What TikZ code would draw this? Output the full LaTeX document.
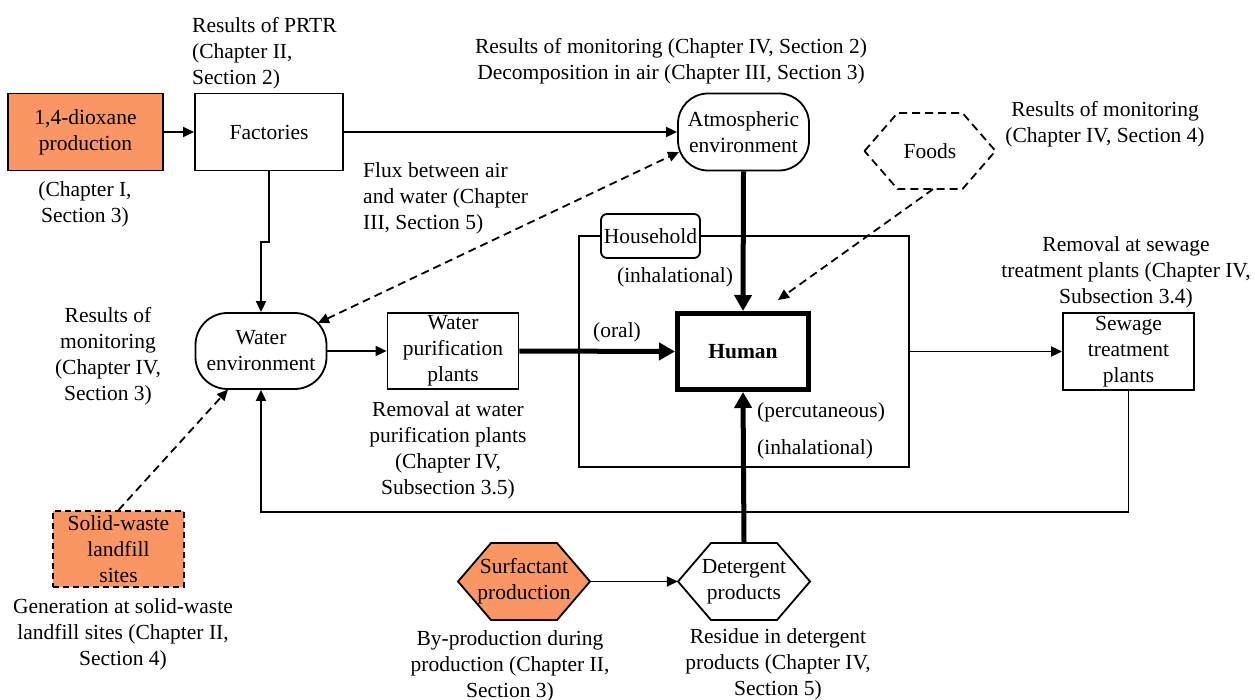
\documentclass[tikz,border=0pt]{standalone}
\usepackage{fontspec}
\setmainfont{Liberation Serif}
\usetikzlibrary{arrows.meta}
\definecolor{orfill}{RGB}{250,150,100}
\newcommand{\hexpath}[5]{%
  \draw[#5] ({#1-#3/2},#2) -- ({#1-#3/2+33},{#2-#4/2}) -- ({#1+#3/2-33},{#2-#4/2}) --
    ({#1+#3/2},#2) -- ({#1+#3/2-33},{#2+#4/2}) -- ({#1-#3/2+33},{#2+#4/2}) -- cycle;}
\begin{document}
\begin{tikzpicture}[x=1pt,y=-1pt,
  every node/.style={font=\fontsize{21.5}{26}\selectfont, inner sep=0pt, align=center},
  boxnode/.style={draw, line width=1.8pt, rectangle, minimum height=77pt},
  plain/.style={rectangle, minimum height=77pt},
  conn/.style={line width=1.8pt, -{Triangle[length=11pt,width=10pt]}},
  dconn/.style={line width=1.8pt, dash pattern=on 8pt off 5pt, -{Triangle[length=11pt,width=10pt]}},
  thick arrow/.style={line width=5pt, -{Triangle[length=16pt,width=17pt]}}]
\useasboundingbox (0,0) rectangle (1255,700);
\fill[white] (0,0) rectangle (1255,700);

% household frame
\node[draw, line width=1.8pt, minimum width=330pt, minimum height=231pt] (frame) at (744,351.5) {};
\node[draw, line width=1.8pt, fill=white, rounded corners=6pt, minimum width=99pt, minimum height=44pt] (hh) at (650.5,236) {Household};

% boxes
\node[boxnode, fill=orfill, minimum width=155pt] (diox) at (85.5,132) {1,4-dioxane\\production};
\node[boxnode, minimum width=148pt] (fact) at (269,132) {Factories};
\node[boxnode, rounded corners=30pt, minimum width=131pt] (atm) at (743.5,132) {Atmospheric\\environment};
\hexpath{930}{151}{131}{76}{line width=1.8pt, dash pattern=on 8pt off 5pt}
\node[plain, minimum width=131pt, minimum height=76pt] (foods) at (930,151) {Foods};
\node[draw, line width=5pt, minimum width=131pt, minimum height=76pt, font=\fontsize{21.5}{26}\selectfont\bfseries] (human) at (743,351.5) {Human};
\node[boxnode, minimum width=131pt, minimum height=76pt] (wpur) at (453,351) {Water\\purification\\plants};
\node[boxnode, rounded corners=32pt, minimum width=131pt, minimum height=76pt] (wenv) at (261,351) {Water\\environment};
\node[boxnode, minimum width=131pt] (sew) at (1128.5,351.5) {Sewage\\treatment\\plants};
\node[boxnode, fill=orfill, dash pattern=on 6pt off 4pt, minimum width=131pt, minimum height=76pt] (land) at (118.5,549) {Solid-waste\\landfill\\sites};
\hexpath{524}{581.5}{132}{77}{line width=1.8pt, fill=orfill}
\node[plain, minimum width=132pt] (surf) at (524,581.5) {Surfactant\\production};
\hexpath{744}{581.5}{132}{77}{line width=1.8pt, fill=white}
\node[plain, minimum width=132pt] (det) at (744,581.5) {Detergent\\products};

% helper coordinates on rounded borders
\coordinate (atmW) at (679,152);
\coordinate (wenvNE) at (318,323);
\coordinate (wenvSW) at (228,389.5);
\coordinate (humanNE) at (778,300);

% connectors
\draw[conn] (diox) -- (fact);
\draw[conn] (fact) -- (atm);
\draw[conn] (fact.south) -- ++(0,71) -| (wenv.north);
\draw[dconn, {Triangle[length=11pt,width=10pt]}-{Triangle[length=11pt,width=10pt]}] (wenvNE) -- (atmW);
\draw[dconn] (foods.south) ++(3,0) -- (humanNE);
\draw[thick arrow] (atm.south) -- (human.north);
\draw[thick arrow] (wpur.east) -- (human.west);
\draw[thick arrow] (det.north) -- (human.south);
\draw[conn] (frame.east) -- (sew.west);
\draw[conn] (sew.south) -- ++(0,121) -| (wenv.south);
\draw[conn] (wenv.east) -- (wpur.west);
\draw[dconn] (land.north) -- (wenvSW);
\draw[conn] (surf.east) -- (det.west);

% notes
\node[anchor=west, align=left] (n1) at (192,53) {Results of PRTR\\(Chapter II,\\Section 2)};
\node (n2) at (85,204.5) {(Chapter I,\\Section 3)};
\node (n3) at (671,61) {Results of monitoring (Chapter IV, Section 2)\\Decomposition in air (Chapter III, Section 3)};
\node[anchor=west, align=left] (n4) at (363,198.5) {Flux between air\\and water (Chapter\\III, Section 5)};
\node (n5) at (1105,124.5) {Results of monitoring\\(Chapter IV, Section 4)};
\node (n6) at (1126,272.5) {Removal at sewage\\treatment plants (Chapter IV,\\Subsection 3.4)};
\node (n7) at (675,277) {(inhalational)};
\node (n8) at (617,332) {(oral)};
\node[anchor=west] (n9) at (757,412) {(percutaneous)};
\node[anchor=west] (n10) at (757,449) {(inhalational)};
\node (n11) at (108,356.5) {Results of\\monitoring\\(Chapter IV,\\Section 3)};
\node (n12) at (448,450) {Removal at water\\purification plants\\(Chapter IV,\\Subsection 3.5)};
\node (n13) at (123,634) {Generation at solid-waste\\landfill sites (Chapter II,\\Section 4)};
\node (n14) at (510,666) {By-production during\\production (Chapter II,\\Section 3)};
\node (n15) at (778,664) {Residue in detergent\\products (Chapter IV,\\Section 5)};
\end{tikzpicture}
\end{document}
